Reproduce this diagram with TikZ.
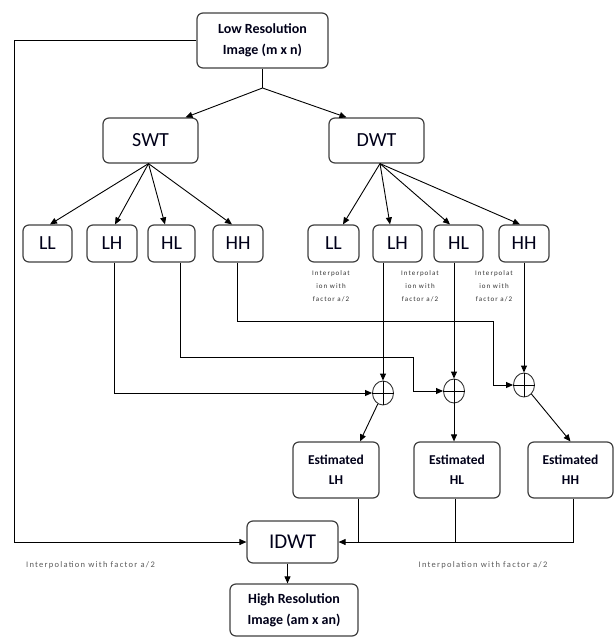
\documentclass[tikz,border=0pt]{standalone}
\usepackage{fontspec}
\setmainfont{Carlito}
\newfontfamily\spaced[LetterSpace=15]{Carlito}
\usetikzlibrary{arrows.meta,shapes.geometric,calc}
\begin{document}
\begin{tikzpicture}[x=1pt,y=-1pt,
  box/.style={draw=black!75,line width=1.2pt,rounded corners=6pt,align=center,inner sep=0pt,fill=white,text=black!90!blue},
  big/.style={box,font=\bfseries\fontsize{14}{21}\selectfont},
  wt/.style={box,minimum width=95pt,minimum height=45pt,font=\fontsize{20}{24}\selectfont},
  band/.style={box,minimum width=49pt,minimum height=37pt,font=\fontsize{20}{24}\selectfont},
  est/.style={box,minimum width=86pt,minimum height=56pt,font=\bfseries\fontsize{13.5}{20}\selectfont},
  small/.style={align=center,inner sep=0pt,text=black!80,font=\spaced\fontsize{7}{13}\selectfont},
  note/.style={inner sep=0pt,text=black!65,font=\spaced\fontsize{8.5}{10}\selectfont},
  sum/.style={ellipse,draw=black!80,line width=0.9pt,minimum width=21pt,minimum height=24pt,inner sep=0pt},
  arr/.style={-{Triangle[length=7pt,width=6pt]},line width=0.9pt},
  ln/.style={line width=0.9pt}]
\useasboundingbox (0,0) rectangle (614,638);

% nodes
\node[big,minimum width=131pt,minimum height=55pt] (low) at (262.5,40.5) {Low Resolution\\Image (m x n)};
\node[wt] (swt) at (150.5,140.5) {SWT};
\node[wt] (dwt) at (376.5,140.5) {DWT};

\node[band] (s1) at (47.5,243.5) {LL};
\node[band,minimum width=50pt] (s2) at (112,243.5) {LH};
\node[band,minimum width=47pt] (s3) at (171.5,243.5) {HL};
\node[band,minimum width=50pt] (s4) at (238,243.5) {HH};

\node[band,minimum width=51pt] (d1) at (333.5,243.5) {LL};
\node[band] (d2) at (397.5,243.5) {LH};
\node[band] (d3) at (458.5,243.5) {HL};
\node[band,minimum width=50pt] (d4) at (524,243.5) {HH};

\node[small] (t1) at (331,286) {Interpolat\\ion with\\factor a/2};
\node[small] (t2) at (420,286) {Interpolat\\ion with\\factor a/2};
\node[small] (t3) at (494,286) {Interpolat\\ion with\\factor a/2};

\node[sum] (c1) at (383,393) {};
\node[sum] (c2) at (454,391) {};
\node[sum] (c3) at (524,385) {};
\foreach \c in {c1,c2,c3}{\draw[ln] (\c.north) -- (\c.south) (\c.west) -- (\c.east);}

\node[est] (e1) at (336,470) {Estimated\\LH};
\node[est] (e2) at (457,470) {Estimated\\HL};
\node[est,minimum width=85pt] (e3) at (570.5,470) {Estimated\\HH};

\node[box,minimum width=91pt,minimum height=42pt,font=\fontsize{21}{24}\selectfont] (idwt) at (292.5,542) {IDWT};
\node[big,minimum width=128pt,minimum height=52pt] (high) at (294,610) {High Resolution\\Image (am x an)};

\node[note] (n1) at (90.5,565) {Interpolation with factor a/2};
\node[note] (n2) at (483,565) {Interpolation with factor a/2};

% connectors
\coordinate (split) at (262.5,88);
\draw[ln] (low.south) -- (split);
\draw[arr] (split) -- ([xshift=35pt]swt.north);
\draw[arr] (split) -- ([xshift=-30pt]dwt.north);

\coordinate (lft) at (14,542);
\draw[arr] (low.west) -| (lft) -- (idwt.west);

\coordinate (so) at ([xshift=-2pt]swt.south);
\draw[arr] (so) -- ([xshift=2.5pt]s1.north);
\draw[arr] (so) -- ([xshift=3pt]s2.north);
\draw[arr] (so) -- ([xshift=-6.5pt]s3.north);
\draw[arr] (so) -- ([xshift=-6pt]s4.north);

\coordinate (do) at ([xshift=3.5pt]dwt.south);
\draw[arr] (do) -- ([xshift=9.5pt]d1.north);
\draw[arr] (do) -- ([xshift=-7.5pt]d2.north);
\draw[arr] (do) -- ([xshift=-8.5pt]d3.north);
\draw[arr] (do) -- ([xshift=-4pt]d4.north);

\coordinate (k2) at (413,357);
\coordinate (k3) at (493,321);
\draw[arr] ([xshift=2.5pt]s2.south) |- (c1);
\draw[arr] ([xshift=8.5pt]s3.south) |- (k2) |- (c2);
\draw[arr] ([xshift=-1pt]s4.south) |- (k3) |- (c3);

\draw[arr] (d2.south -| c1) -- (c1);
\draw[arr] (d3.south -| c2) -- (c2);
\draw[arr] (d4.south -| c3) -- (c3);

\draw[arr] (c1) -- ([xshift=24pt]e1.north);
\draw[arr] (c2) -- (c2 |- e2.north);
\draw[arr] (c3) -- (e3.north);

\coordinate (f1) at ([xshift=22pt]e1.south);
\coordinate (f2) at ([xshift=-2pt]e2.south);
\coordinate (f3) at ([xshift=2.5pt]e3.south);
\draw[ln] (f1) -- (f1 |- idwt.east);
\draw[ln] (f2) -- (f2 |- idwt.east);
\draw[arr] (f3) |- (idwt.east);

\coordinate (ia) at ([xshift=-5pt]idwt.south);
\draw[arr] (ia) -- (ia |- high.north);
\end{tikzpicture}
\end{document}
